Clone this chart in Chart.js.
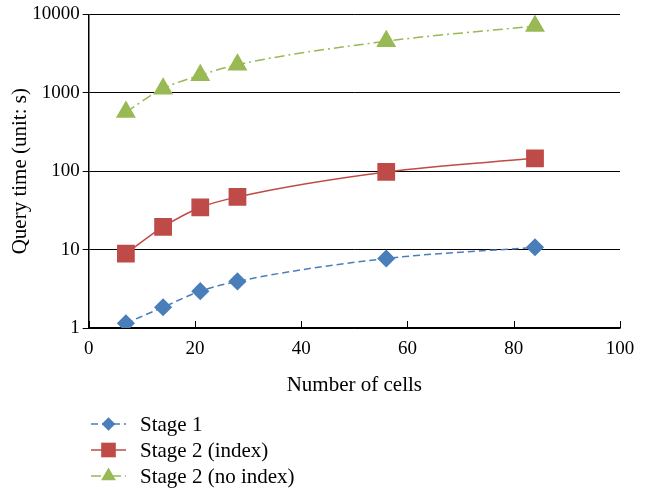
<!DOCTYPE html>
<html>
<head>
<meta charset="utf-8">
<script src="https://cdn.jsdelivr.net/npm/chart.js@4"></script>
<style>
  html, body { margin: 0; padding: 0; background: #fff; }
  #wrap { width: 650px; height: 490px; }
</style>
</head>
<body>
<div id="wrap"><canvas id="chart-line"></canvas></div>
<script>
var cells = [7, 14, 21, 28, 56, 84];
var stage1 = [1.15, 1.84, 2.95, 3.93, 7.7, 10.7];
var stage2Index = [8.9, 19.5, 34.5, 47, 98, 146];
var stage2NoIndex = [570, 1130, 1680, 2280, 4550, 7100];
var yTicks = [1, 10, 100, 1000, 10000];
var xTicks = [0, 20, 40, 60, 80, 100];

var font = "'Liberation Serif', 'DejaVu Serif', serif";

function toPoints(vals) {
  return cells.map(function (c, i) { return { x: c, y: vals[i] }; });
}

function drawMarker(ctx, style, x, y, r, color) {
  ctx.save();
  ctx.fillStyle = color;
  ctx.setLineDash([]);
  ctx.beginPath();
  if (style === "rectRot") {
    ctx.moveTo(x, y - r); ctx.lineTo(x + r, y); ctx.lineTo(x, y + r); ctx.lineTo(x - r, y);
  } else if (style === "rect") {
    var s = r * Math.SQRT1_2;
    ctx.rect(x - s, y - s, 2 * s, 2 * s);
  } else {
    ctx.moveTo(x, y - r);
    ctx.lineTo(x + r * 0.866, y + r * 0.5);
    ctx.lineTo(x - r * 0.866, y + r * 0.5);
  }
  ctx.closePath();
  ctx.fill();
  ctx.restore();
}

// legend below the plot, line + marker like the original
var legendPlugin = {
  id: "bottomLegend",
  afterDraw: function (chart) {
    var ctx = chart.ctx;
    var rows = [424, 450, 476];
    chart.data.datasets.forEach(function (ds, i) {
      var y = rows[i];
      ctx.save();
      ctx.strokeStyle = ds.borderColor;
      ctx.lineWidth = 1.5;
      ctx.setLineDash(ds.borderDash || []);
      ctx.beginPath();
      ctx.moveTo(91, y);
      ctx.lineTo(126, y);
      ctx.stroke();
      ctx.restore();
      drawMarker(ctx, ds.pointStyle, 108.5, y, ds.pointRadius * (ds.pointStyle === "rect" ? 0.9 : 0.85), ds.backgroundColor);
      ctx.save();
      ctx.fillStyle = "#000";
      ctx.font = "21px " + font;
      ctx.textBaseline = "middle";
      ctx.fillText(ds.label, 140, y + 1);
      ctx.restore();
    });
    // inward tick marks on x axis
    var xs = chart.scales.x;
    var bottom = chart.chartArea.bottom;
    ctx.save();
    ctx.strokeStyle = "#000";
    ctx.lineWidth = 1;
    xTicks.forEach(function (t) {
      var px = Math.round(xs.getPixelForValue(t)) + 0.5;
      ctx.beginPath();
      ctx.moveTo(px, bottom);
      ctx.lineTo(px, bottom - 7);
      ctx.stroke();
    });
    ctx.restore();
  }
};

var ctx = document.getElementById("chart-line");
var myLineChart = new Chart(ctx, {
  type: "line",
  data: {
    datasets: [
      {
        label: "Stage 1",
        data: toPoints(stage1),
        borderColor: "#4a7ebb",
        backgroundColor: "#4a7ebb",
        borderWidth: 1.5,
        borderDash: [7, 4],
        pointStyle: "rectRot",
        pointRadius: 8,
        pointHoverRadius: 8,
        cubicInterpolationMode: "monotone",
      },
      {
        label: "Stage 2 (index)",
        data: toPoints(stage2Index),
        borderColor: "#be4b48",
        backgroundColor: "#be4b48",
        borderWidth: 1.5,
        pointStyle: "rect",
        pointRadius: 11.5,
        pointHoverRadius: 11.5,
        cubicInterpolationMode: "monotone",
      },
      {
        label: "Stage 2 (no index)",
        data: toPoints(stage2NoIndex),
        borderColor: "#98b954",
        backgroundColor: "#98b954",
        borderWidth: 1.5,
        borderDash: [10, 4, 2, 4],
        pointStyle: "triangle",
        pointRadius: 10,
        pointHoverRadius: 10,
        cubicInterpolationMode: "monotone",
      },
    ],
  },
  options: {
    responsive: true,
    maintainAspectRatio: false,
    animation: false,
    layout: { padding: { left: 0, right: 30, top: 9, bottom: 92 } },
    plugins: {
      legend: { display: false },
      tooltip: { enabled: false },
    },
    scales: {
      x: {
        type: "linear",
        min: 0,
        max: 100,
        afterBuildTicks: function (axis) {
          axis.ticks = xTicks.map(function (v) { return { value: v }; });
        },
        grid: { display: false, drawTicks: false },
        border: { display: true, color: "#000", width: 1.5 },
        ticks: { color: "#000", font: { family: font, size: 19 }, padding: 10, maxRotation: 0 },
        title: {
          display: true,
          text: "Number of cells",
          color: "#000",
          font: { family: font, size: 21 },
          padding: { top: 2, bottom: 0 },
        },
      },
      y: {
        type: "logarithmic",
        min: 1,
        max: 10000,
        afterBuildTicks: function (axis) {
          axis.ticks = yTicks.map(function (v) { return { value: v }; });
        },
        grid: { color: "#000", lineWidth: 1, tickLength: 6 },
        border: { display: true, color: "#000", width: 1.5 },
        ticks: {
          color: "#000",
          font: { family: font, size: 19 },
          padding: 3,
          callback: function (v) { return String(v); },
        },
        title: {
          display: true,
          text: "Query time (unit: s)",
          color: "#000",
          font: { family: font, size: 21 },
          padding: { top: 8, bottom: -4 },
        },
      },
    },
  },
  plugins: [legendPlugin],
});
</script>
</body>
</html>
